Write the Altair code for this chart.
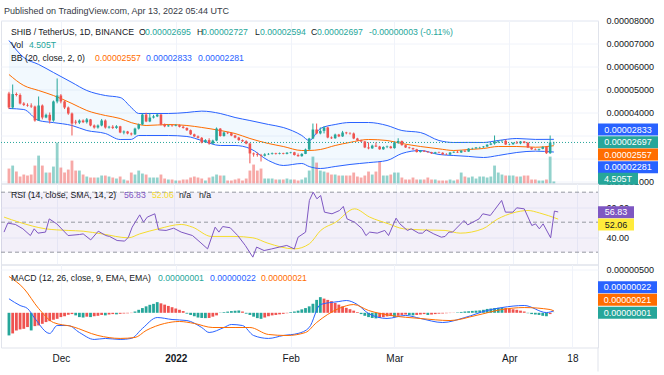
import altair as alt
import pandas as pd

# ---------------- data (prices in units of 1e-8 USDT), daily candles from 2021-11-17 ----------------
open_e8 = [4826, 4217, 4800, 4760, 4391, 4330, 4300, 4260, 3652, 4304, 3783, 3900, 3652, 4480, 4740, 4480, 4217, 3957, 3600, 3560,
           3650, 3580, 3700, 3435, 3348, 3435, 3652, 3348, 3380, 3330, 3400, 3130, 3174, 3087, 3050, 3300, 3480, 3910, 3610, 3780,
           3830, 3910, 3478, 3400, 3440, 3420, 3450, 3380, 3330, 3230, 3050, 2960, 2900, 2700, 2800, 2650, 2780, 3300, 2980, 3130,
           3100, 3000, 2910, 2800, 2750, 2650, 2220, 2180, 2150, 2120, 2180, 2200, 2230, 2200, 2230, 2200, 2250, 2270, 2150, 2100,
           2200, 2391, 2870, 3260, 3090, 3200, 3350, 2913, 2880, 3040, 2960, 3130, 3100, 3087, 2870, 2790, 2740, 2480, 2440, 2560,
           2520, 2400, 2500, 2520, 2450, 2700, 2760, 2580, 2480, 2450, 2400, 2280, 2340, 2300, 2270, 2220, 2270, 2250, 2180, 2170,
           2260, 2290, 2260, 2340, 2300, 2430, 2440, 2480, 2490, 2520, 2600, 2650, 2740, 2760, 2770, 2610, 2620, 2680, 2660, 2740,
           2680, 2480, 2400, 2380, 2420, 2500, 2230, 2695]
high_e8 = [4900, 5217, 4870, 4830, 4450, 4400, 4400, 4300, 4696, 4350, 3950, 4000, 4520, 5480, 4800, 4520, 4260, 4000, 3680, 3700,
           3700, 3760, 3720, 3480, 3480, 3720, 3700, 3420, 3450, 3450, 3420, 3220, 3200, 3130, 3340, 3520, 3960, 3990, 3980, 3900,
           3960, 3930, 3520, 3480, 3470, 3490, 3480, 3420, 3350, 3260, 3080, 3000, 2930, 2840, 2880, 2820, 3350, 3320, 3170, 3160,
           3130, 3030, 2940, 2830, 2790, 2680, 2260, 2260, 2200, 2230, 2240, 2260, 2250, 2260, 2250, 2280, 2290, 2290, 2220, 2230,
           2430, 2900, 3520, 3520, 3350, 3400, 3380, 2960, 3080, 3070, 3200, 3160, 3140, 3130, 2900, 2820, 2760, 2700, 2600, 2700,
           2550, 2530, 2560, 2550, 2740, 2880, 2780, 2600, 2510, 2470, 2420, 2370, 2360, 2320, 2290, 2290, 2300, 2270, 2230, 2280,
           2310, 2350, 2360, 2360, 2450, 2470, 2500, 2510, 2540, 2620, 2670, 3000, 2780, 2800, 2830, 2650, 2700, 2760, 2760, 2760,
           2720, 2500, 2440, 2420, 2530, 2520, 3000, 2727]
low_e8 = [4150, 4150, 4700, 4350, 4280, 4250, 4200, 3600, 3650, 3700, 3750, 3520, 3600, 4400, 4400, 4150, 3900, 3000, 3480, 3500,
          3540, 3520, 3400, 3300, 3300, 3400, 3300, 3300, 3280, 3290, 3100, 3050, 3050, 3000, 3020, 3260, 3450, 3580, 3580, 3740,
          3800, 3440, 3360, 3380, 3380, 3400, 3350, 3300, 3200, 3020, 2930, 2870, 2660, 2680, 2600, 2620, 2750, 2950, 2950, 3060,
          2970, 2880, 2770, 2720, 2620, 1790, 2080, 2080, 1870, 2090, 2150, 2170, 2170, 2180, 2180, 2180, 2220, 2130, 2080, 2080,
          2190, 2350, 2840, 3050, 3050, 3090, 2880, 2850, 2860, 2930, 2940, 3050, 3040, 2840, 2760, 2710, 2450, 2400, 2420, 2500,
          2380, 2380, 2450, 2430, 2430, 2640, 2560, 2460, 2430, 2380, 2260, 2260, 2280, 2250, 2200, 2200, 2230, 2160, 2150, 2150,
          2240, 2240, 2240, 2280, 2290, 2390, 2420, 2430, 2460, 2500, 2580, 2600, 2670, 2700, 2590, 2580, 2600, 2640, 2620, 2660,
          2460, 2380, 2360, 2340, 2400, 2200, 2200, 2594]
close_e8 = [4217, 4800, 4760, 4391, 4330, 4300, 4260, 3652, 4304, 3783, 3900, 3652, 4480, 4740, 4480, 4217, 3957, 3520, 3560, 3650,
            3580, 3700, 3435, 3348, 3435, 3652, 3348, 3380, 3330, 3400, 3130, 3174, 3087, 3050, 3300, 3480, 3910, 3610, 3780, 3830,
            3910, 3478, 3400, 3440, 3420, 3450, 3380, 3330, 3230, 3050, 2960, 2900, 2700, 2800, 2650, 2780, 3300, 2980, 3130, 3100,
            3000, 2910, 2800, 2750, 2650, 2220, 2180, 2150, 2120, 2180, 2200, 2230, 2200, 2230, 2200, 2250, 2270, 2150, 2100, 2200,
            2391, 2870, 3260, 3090, 3200, 3350, 2913, 2880, 3040, 2960, 3130, 3100, 3087, 2870, 2790, 2740, 2480, 2440, 2560, 2520,
            2400, 2500, 2520, 2450, 2700, 2760, 2580, 2480, 2450, 2400, 2280, 2340, 2300, 2270, 2220, 2270, 2250, 2180, 2170, 2260,
            2290, 2260, 2340, 2300, 2430, 2440, 2480, 2490, 2520, 2600, 2650, 2740, 2760, 2770, 2610, 2620, 2680, 2660, 2740, 2680,
            2480, 2400, 2380, 2420, 2500, 2230, 2695, 2697]
volume_T = [33.0, 39.6, 26.4, 15.4, 19.8, 17.6, 19.8, 39.6, 61.6, 39.6, 24.2, 24.2, 37.4, 90.2, 35.2, 24.2, 30.8, 50.6, 28.6, 28.6,
            19.8, 15.4, 13.2, 13.2, 13.2, 17.6, 17.6, 15.4, 13.2, 11.0, 15.4, 8.8, 6.6, 24.2, 19.8, 28.6, 22.0, 19.8, 13.2,
            13.2, 13.2, 19.8, 11.0, 8.8, 8.8, 6.6, 6.6, 8.8, 8.8, 13.2, 15.4, 13.2, 11.0, 6.6, 13.2, 15.4, 19.8, 17.6, 17.6,
            6.6, 6.6, 8.8, 11.0, 6.6, 11.0, 28.6, 41.8, 28.6, 33.0, 11.0, 11.0, 11.0, 8.8, 8.8, 8.8, 11.0, 8.8, 8.8,
            6.6, 8.8, 13.2, 28.6, 59.4, 46.2, 28.6, 26.4, 24.2, 19.8, 19.8, 17.6, 17.6, 17.6, 17.6, 24.2, 15.4, 13.2, 17.6,
            26.4, 19.8, 26.4, 48.4, 17.6, 17.6, 19.8, 24.2, 24.2, 13.2, 8.8, 8.8, 13.2, 8.8, 8.8, 8.8, 13.2, 8.8, 8.8,
            6.6, 6.6, 6.6, 8.8, 6.6, 8.8, 24.2, 15.4, 13.2, 15.4, 11.0, 15.4, 15.4, 13.2, 15.4, 39.6, 24.2, 19.8, 17.6, 17.6,
            17.6, 15.4, 15.4, 17.6, 17.6, 8.8, 8.8, 6.6, 6.6, 8.8, 59.4, 4.505]

bb_days = [0, 4, 8, 12, 17, 21, 26, 30, 33, 35, 37, 43, 48, 52, 57, 61, 65, 70, 74, 79, 81, 84, 88, 92, 97, 102, 106, 111,
           116, 120, 124, 128, 132, 137, 142, 147]
bb_upper_e8 = [7130, 6390, 6090, 5740, 5304, 4957, 4739, 4652, 4217, 3957, 3957, 3957, 4000, 4060, 3957, 3783, 3652, 3480,
               3348, 3000, 2783, 3304, 3478, 3565, 3565, 3435, 3217, 3130, 2783, 2696, 2700, 2696, 2783, 2870, 2830, 2833]
bb_basis_e8 = [5652, 5174, 4957, 4739, 4391, 4087, 3870, 3739, 3560, 3480, 3435, 3478, 3435, 3350, 3217, 3087, 2870, 2652,
               2522, 2348, 2348, 2391, 2565, 2700, 2826, 2783, 2652, 2522, 2420, 2348, 2391, 2435, 2522, 2522, 2490, 2557]
bb_lower_e8 = [4174, 4130, 3652, 3560, 3435, 3217, 3087, 2826, 2830, 3000, 3000, 3000, 2957, 2783, 2565, 2565, 2435, 1913,
               1696, 1783, 1650, 1565, 1652, 1740, 1820, 1913, 2217, 2348, 2174, 2130, 2090, 2043, 2130, 2261, 2320, 2281]

rsi_days = [0, 1, 3, 5, 7, 8, 9, 11, 12, 14, 17, 20, 21, 23, 25, 27, 28, 30, 32, 33, 34, 36, 37, 38, 40, 41, 43, 45, 47, 50,
            52, 54, 56, 57, 58, 60, 62, 64, 66, 67, 69, 71, 73, 75, 77, 78, 80, 81, 82, 83, 84, 85, 87, 89, 90, 91, 93, 95,
            96, 97, 99, 101, 102, 104, 105, 107, 108, 110, 111, 112, 114, 116, 117, 118, 119, 122, 123, 126, 127, 129, 130,
            132, 133, 135, 136, 138, 140, 141, 142, 143, 145, 146, 147]
rsi_vals = [43.4, 49.4, 48.5, 45.6, 41.1, 45.6, 42.7, 43.4, 52.2, 48.9, 41.1, 41.8, 42.2, 38.2, 44.0, 41.1, 40.5, 37.8, 37.4,
            40.0, 46.7, 54.9, 50.0, 53.4, 55.6, 44.9, 44.5, 46.0, 43.4, 41.1, 36.7, 32.2, 46.7, 43.4, 47.1, 46.3, 41.1, 34.5,
            26.7, 33.4, 31.1, 32.2, 33.4, 34.5, 32.2, 40.0, 43.4, 64.5, 70.0, 65.6, 67.8, 56.7, 55.6, 57.8, 60.5, 52.2, 50.0,
            45.6, 41.1, 43.4, 42.7, 44.5, 41.1, 52.7, 48.9, 44.5, 45.6, 42.7, 42.7, 44.9, 42.2, 40.0, 40.5, 43.4, 43.4, 51.1,
            48.2, 52.2, 55.6, 54.5, 57.8, 64.5, 56.7, 56.7, 59.6, 58.9, 47.8, 48.9, 45.6, 48.9, 39.6, 57.4, 56.83]
rsi_ma_days = [0, 4, 11, 17, 21, 26, 33, 36, 41, 47, 50, 55, 61, 66, 70, 77, 81, 84, 88, 93, 97, 102, 106, 111, 117, 121,
               127, 131, 135, 139, 142, 147]
rsi_ma_vals = [53.4, 50.0, 45.6, 44.5, 44.0, 42.2, 39.6, 42.2, 45.6, 48.5, 46.7, 40.5, 40.5, 39.6, 36.0, 32.2, 35.6, 44.5,
               50.0, 58.9, 53.4, 48.9, 45.6, 44.9, 44.5, 42.7, 45.6, 52.2, 56.2, 57.8, 56.2, 52.06]
rsi_levels = [70, 50, 30]
rsi_ticks = [40, 60]

macd_days = [0, 3, 5, 7, 11, 13, 16, 19, 23, 26, 30, 33, 36, 40, 44, 48, 52, 54, 58, 60, 63, 66, 70, 74, 78, 81, 84, 89,
             91, 94, 97, 102, 107, 111, 117, 123, 129, 133, 139, 145, 147]
macd_e8 = [163, 85, 50, -66, -240, -148, -148, -229, -310, -298, -310, -298, -182, -55, -78, -90, -171, -229, -171, -136,
           -148, -264, -298, -264, -240, -171, 96, 131, 143, 96, -8, -66, -31, -66, -113, -55, 27, 61, 85, 3, 22]
signal_days = [0, 4, 8, 12, 17, 24, 30, 34, 37, 42, 46, 50, 55, 61, 65, 70, 75, 80, 83, 89, 93, 97, 103, 111, 119, 126,
               133, 139, 146, 147]
signal_e8 = [422, 283, 50, -113, -159, -264, -298, -287, -206, -124, -101, -124, -171, -171, -171, -252, -264, -229, -113,
             50, 96, 27, -31, -66, -90, -31, 38, 61, 38, 21]
hist_e8 = [-263, -240, -205, -193, -186, -166, -205, -155, -147, -128, -108, -97, -81, -70, -50, -39, -23, -15, -30, -50,
           -55, -45, -50, -40, -35, -25, -30, -20, -15, -18, -12, -8, -6, -3,
           15, 35, 55, 75, 93, 104, 124, 110, 95, 80, 65, 50, 35, 20,
           -10, -25, -40, -55, -60, -62, -60, -45, -30,
           3, 8, 14, 20, 24, 27, 15,
           -10, -25, -45, -62, -70, -55, -40, -30, -25, -18, -12, -5,
           8, 15, 25, 40, 55, 75, 105, 150, 182,
           165, 150, 135, 115, 95, 75, 58, 42, 25, 8,
           -15, -35, -50, -60, -65, -58, -50, -42, -38, -48, -35, -25, -20, -26, -30, -25, -20, -15, -25, -20, -15, -10,
           -8, -5, -3, -2,
           5, 10, 15, 18, 22, 25, 28, 35, 45, 50, 55, 58, 60, 55, 45, 40, 35, 25, 15,
           -5, -15, -20, -25, -35, -40, -15, 1]

price_ticks_e8 = [1000, 2000, 3000, 4000, 5000, 6000, 7000, 8000]
price_ticks_hidden = [2000, 3000]
macd_ticks_e8 = [500]
tick_days = [14, 45, 76, 104, 135, 152]
tick_labels = ["Dec", "2022", "Feb", "Mar", "Apr", "18"]
published = "Published on TradingView.com, Apr 13, 2022 05:44 UTC"

# ---------------- style ----------------
FONT = "Liberation Sans"
TXT = "#131722"
GRID = "#f0f3fa"
TEAL = "#26a69a"
RED = "#ef5350"
BLUE = "#2962ff"
ORANGE = "#ff6d00"
PURPLE = "#7e57c2"
YELLOW = "#f5dc2e"
W = 597
H1, H2, H3 = 163, 81, 83
HF = 8.7  # header font size


def fmt8(v):
    return f"{v * 1e-8:.8f}"


# ---------------- frames ----------------
N = len(close_e8)
candles = pd.DataFrame({"day": list(range(N)), "open": open_e8, "high": high_e8, "low": low_e8,
                        "close": close_e8, "vol": volume_T})
candles["dir"] = ["up" if c >= o else "down" for o, c in zip(open_e8, close_e8)]

bb = pd.DataFrame({"day": bb_days, "upper": bb_upper_e8, "basis": bb_basis_e8, "lower": bb_lower_e8})
rsi = pd.DataFrame({"day": rsi_days, "rsi": rsi_vals})
rsi_ma = pd.DataFrame({"day": rsi_ma_days, "rsi": rsi_ma_vals})
macd = pd.DataFrame({"day": macd_days, "v": macd_e8})
signal = pd.DataFrame({"day": signal_days, "v": signal_e8})

cats = []
for i, h in enumerate(hist_e8):
    prev = hist_e8[i - 1] if i > 0 else 0
    if h >= 0:
        cats.append("pos_up" if h >= prev else "pos_dn")
    else:
        cats.append("neg_dn" if h < prev else "neg_up")
hist = pd.DataFrame({"day": list(range(len(hist_e8))), "h": hist_e8, "cat": cats})

# ---------------- scales / axes ----------------
xs = alt.Scale(domain=[-0.8, 157.56], nice=False, zero=False)
ps = alt.Scale(domain=[913, 8000], nice=False, zero=False)
vs = alt.Scale(domain=[0, 360], nice=False, zero=False)
rs = alt.Scale(domain=[21.8, 75.8], nice=False, zero=False)
ms = alt.Scale(domain=[-403.5, 561.6], nice=False, zero=False)

ax_hidden = alt.Axis(values=tick_days, labels=False, ticks=False, domain=False, grid=True, gridColor=GRID)
X = alt.X("day:Q", scale=xs, axis=ax_hidden, title=None)

date_expr = "''"
for d, lab in reversed(list(zip(tick_days, tick_labels))):
    date_expr = f"datum.value == {d} ? '{lab}' : ({date_expr})"
bold_day = tick_days[tick_labels.index("2022")]
ax_date = alt.Axis(values=tick_days, labelExpr=date_expr, ticks=False, domain=False, grid=True, gridColor=GRID,
                   labelFontSize=10, labelPadding=6, labelColor=TXT, labelFont=FONT,
                   labelFontWeight={"condition": {"test": f"datum.value == {bold_day}", "value": "bold"},
                                    "value": "normal"})
X_date = alt.X("day:Q", scale=xs, axis=ax_date, title=None)

hidden_js = ",".join(str(v) for v in price_ticks_hidden)
ax_price = alt.Axis(orient="right", values=price_ticks_e8,
                    labelExpr=f"indexof([{hidden_js}], datum.value) >= 0 ? '' : format(datum.value / 100000000, '.8f')",
                    grid=True, gridColor=GRID, ticks=False, domain=False, labelPadding=8, zindex=0)
ax_rsi = alt.Axis(orient="right", values=rsi_ticks, format=".2f", grid=True, gridColor=GRID, ticks=False,
                  domain=False, labelPadding=8, zindex=0)
ax_macd = alt.Axis(orient="right", values=macd_ticks_e8, labelExpr="format(datum.value / 100000000, '.8f')",
                   grid=True, gridColor=GRID, ticks=False, domain=False, labelPadding=8, zindex=0)


def text_layer(rows, size=HF):
    df = pd.DataFrame(rows, columns=["x", "y", "t", "c"])
    return alt.Chart(df).mark_text(align="left", baseline="middle", font=FONT, fontSize=size).encode(
        x=alt.X("x:Q", scale=None), y=alt.Y("y:Q", scale=None), text="t:N", color=alt.Color("c:N", scale=None))


def label_boxes(rows):
    df = pd.DataFrame(rows, columns=["t", "bg", "fg", "y", "x0", "x1"])
    df["y0"] = df["y"] - 6
    df["y1"] = df["y"] + 6
    df["xc"] = (df["x0"] + df["x1"]) / 2
    rect = alt.Chart(df).mark_rect().encode(
        x=alt.X("x0:Q", scale=None), x2="x1:Q", y=alt.Y("y0:Q", scale=None), y2="y1:Q",
        color=alt.Color("bg:N", scale=None))
    txt = alt.Chart(df).mark_text(align="center", baseline="middle", font=FONT, fontSize=9).encode(
        x=alt.X("xc:Q", scale=None), y=alt.Y("y:Q", scale=None), text="t:N", color=alt.Color("fg:N", scale=None))
    return [rect, txt]


# ---------------- price pane ----------------
dir_color = alt.Color("dir:N", scale=alt.Scale(domain=["up", "down"], range=[TEAL, RED]), legend=None)

bb_area = alt.Chart(bb).mark_area(color="#2196f3", opacity=0.06, interpolate="monotone").encode(
    x=X, y=alt.Y("upper:Q", scale=ps, axis=ax_price, title=None), y2="lower:Q")
bb_up = alt.Chart(bb).mark_line(color=BLUE, strokeWidth=1, interpolate="monotone").encode(
    x=X, y=alt.Y("upper:Q", scale=ps, axis=ax_price, title=None))
bb_lo = alt.Chart(bb).mark_line(color=BLUE, strokeWidth=1, interpolate="monotone").encode(
    x=X, y=alt.Y("lower:Q", scale=ps, axis=ax_price, title=None))
bb_mid = alt.Chart(bb).mark_line(color=ORANGE, strokeWidth=1, interpolate="monotone").encode(
    x=X, y=alt.Y("basis:Q", scale=ps, axis=ax_price, title=None))
wicks = alt.Chart(candles).mark_rule(strokeWidth=1).encode(
    x=X, y=alt.Y("low:Q", scale=ps, axis=ax_price, title=None), y2="high:Q", color=dir_color)
bodies = alt.Chart(candles).mark_bar(size=2.6).encode(
    x=X, y=alt.Y("open:Q", scale=ps, axis=ax_price, title=None), y2="close:Q", color=dir_color)
last = pd.DataFrame({"close": [close_e8[-1]]})
close_line = alt.Chart(last).mark_rule(color=TEAL, strokeDash=[1, 2], strokeWidth=1).encode(
    y=alt.Y("close:Q", scale=ps, axis=ax_price, title=None), x=alt.value(0), x2=alt.value(W))
price_layer = alt.layer(bb_area, bb_up, bb_lo, bb_mid, close_line, wicks, bodies)

vol_layer = alt.Chart(candles).mark_bar(size=2.8, opacity=0.5).encode(
    x=X, y=alt.Y("vol:Q", scale=vs, axis=None, title=None), y2=alt.datum(0), color=dir_color)

o, h, l, c = open_e8[-1], high_e8[-1], low_e8[-1], close_e8[-1]
vol_txt = f"{volume_T[-1]:.3f}T"
price_header = text_layer([
    [10, 11.7, "SHIB / TetherUS, 1D, BINANCE", TXT],
    [138, 11.7, "O", TXT], [144, 11.7, fmt8(o), TEAL],
    [196, 11.7, "H", TXT], [201, 11.7, fmt8(h), TEAL],
    [254, 11.7, "L", TXT], [259, 11.7, fmt8(l), TEAL],
    [310, 11.7, "C", TXT], [316, 11.7, fmt8(c), TEAL],
    [368, 11.7, "-0.00000003 (-0.11%)", TEAL],
    [10, 24, "Vol", TXT], [28, 24, vol_txt, TEAL],
    [10, 37, "BB (20, close, 2, 0)", TXT],
    [94, 37, fmt8(bb_basis_e8[-1]), ORANGE],
    [145, 37, fmt8(bb_upper_e8[-1]), BLUE],
    [197, 37, fmt8(bb_lower_e8[-1]), BLUE],
])
pub_text = text_layer([[3, -10, published, "#363a45"]], size=9)
price_labels = label_boxes([
    [fmt8(bb_upper_e8[-1]), BLUE, "white", 109, W, W + 60],
    [fmt8(close_e8[-1]), TEAL, "white", 121.7, W, W + 60],
    [fmt8(bb_basis_e8[-1]), ORANGE, "white", 134, W, W + 60],
    [fmt8(bb_lower_e8[-1]), BLUE, "white", 146.7, W, W + 60],
    [vol_txt, TEAL, "white", 158.3, W, W + 40],
])
price_pane = alt.layer(vol_layer, price_layer, price_header, pub_text, *price_labels).resolve_scale(
    y="independent").properties(width=W, height=H1)

# ---------------- RSI pane ----------------
band = pd.DataFrame({"top": [rsi_levels[0]], "bot": [rsi_levels[-1]]})
rsi_band = alt.Chart(band).mark_rect(color=PURPLE, opacity=0.09).encode(
    y=alt.Y("top:Q", scale=rs, axis=ax_rsi, title=None), y2="bot:Q", x=alt.value(0), x2=alt.value(W))
lv = pd.DataFrame({"lvl": rsi_levels})
rsi_rules = alt.Chart(lv).mark_rule(color="#9598a1", strokeDash=[4, 3], strokeWidth=1).encode(
    y=alt.Y("lvl:Q", scale=rs, axis=ax_rsi, title=None), x=alt.value(0), x2=alt.value(W))
rsi_ma_line = alt.Chart(rsi_ma).mark_line(color=YELLOW, strokeWidth=1, interpolate="monotone").encode(
    x=X, y=alt.Y("rsi:Q", scale=rs, axis=ax_rsi, title=None))
rsi_line = alt.Chart(rsi).mark_line(color=PURPLE, strokeWidth=1).encode(
    x=X, y=alt.Y("rsi:Q", scale=rs, axis=ax_rsi, title=None))
rsi_header = text_layer([
    [10, 11.5, "RSI (14, close, SMA, 14, 2)", TXT],
    [123, 11.5, f"{rsi_vals[-1]:.2f}", PURPLE],
    [151, 11.5, f"{rsi_ma_vals[-1]:.2f}", YELLOW],
    [178, 11.5, "n/a", TXT], [198, 11.5, "n/a", TXT],
])
rsi_labels = label_boxes([
    [f"{rsi_vals[-1]:.2f}", PURPLE, "white", 28.7, W, W + 36],
    [f"{rsi_ma_vals[-1]:.2f}", "#ffeb3b", TXT, 41.0, W, W + 36],
])
rsi_pane = alt.layer(rsi_band, rsi_rules, rsi_ma_line, rsi_line, rsi_header, *rsi_labels).properties(
    width=W, height=H2)

# ---------------- MACD pane ----------------
hist_color = alt.Color("cat:N", scale=alt.Scale(domain=["pos_up", "pos_dn", "neg_dn", "neg_up"],
                                                range=["#26a69a", "#b2dfdb", "#ff5252", "#ffcdd2"]), legend=None)
hist_bars = alt.Chart(hist).mark_bar(size=2.8).encode(
    x=X_date, y=alt.Y("h:Q", scale=ms, axis=ax_macd, title=None), y2=alt.datum(0), color=hist_color)
macd_line = alt.Chart(macd).mark_line(color=BLUE, strokeWidth=1, interpolate="monotone").encode(
    x=X_date, y=alt.Y("v:Q", scale=ms, axis=ax_macd, title=None))
sig_line = alt.Chart(signal).mark_line(color=ORANGE, strokeWidth=1, interpolate="monotone").encode(
    x=X_date, y=alt.Y("v:Q", scale=ms, axis=ax_macd, title=None))
macd_header = text_layer([
    [10, 13.3, "MACD (12, 26, close, 9, EMA, EMA)", TXT],
    [157, 13.3, fmt8(hist_e8[-1]), TEAL],
    [209, 13.3, fmt8(macd_e8[-1]), BLUE],
    [260, 13.3, fmt8(signal_e8[-1]), ORANGE],
])
macd_labels = label_boxes([
    [fmt8(macd_e8[-1]), BLUE, "white", 22.7, W, W + 59],
    [fmt8(signal_e8[-1]), ORANGE, "white", 35.3, W, W + 59],
    [fmt8(hist_e8[-1]), TEAL, "white", 48.3, W, W + 59],
])
sep = pd.DataFrame({"k": [0]})
sep_rule = alt.Chart(sep).mark_rule(color="#e0e3eb", strokeWidth=1).encode(
    x=alt.value(W), y=alt.value(H3), y2=alt.value(H3 + 24))
macd_pane = alt.layer(hist_bars, macd_line, sig_line, macd_header, *macd_labels, sep_rule).properties(
    width=W, height=H3)

chart = alt.vconcat(price_pane, rsi_pane, macd_pane, spacing=0, bounds="flush").properties(
    padding={"left": 0, "top": 5.5, "right": 0, "bottom": 0},
).configure_view(stroke="#e0e3eb", strokeWidth=1).configure_axis(
    labelFont=FONT, labelColor=TXT, labelFontSize=9)

chart.save("out.html", embed_options={"renderer": "svg", "actions": False})
